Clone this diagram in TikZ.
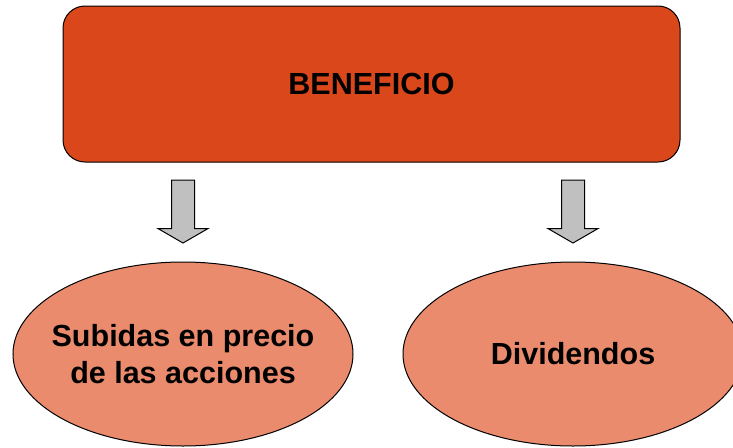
\documentclass[tikz,border=0pt]{standalone}
\usepackage{fontspec}
\setmainfont{Liberation Sans}
\usepackage{xcolor}
\usepackage{tikz}
\usetikzlibrary{
  positioning,
  shapes.geometric,
  shapes.arrows
}

\definecolor{beneficio-fill}{RGB}{217,71,27}
\definecolor{elipse-fill}{RGB}{234,139,110}
\definecolor{flecha-fill}{RGB}{192,192,192}

\begin{document}
\begin{tikzpicture}[
  x=1pt, y=-1pt,
  every node/.style={
    font=\fontsize{30.5}{37}\selectfont\bfseries,
    line width=1pt
  },
  caja/.style={
    rectangle,
    draw,
    fill=beneficio-fill,
    rounded corners=22pt,
    minimum width=617pt,
    minimum height=156pt
  },
  elipse/.style={
    ellipse,
    draw,
    fill=elipse-fill,
    align=center,
    inner xsep=-25pt, inner ysep=0pt,
    minimum width=340pt,
    minimum height=184pt
  },
  flecha/.style={
    single arrow,
    draw,
    fill=flecha-fill,
    rotate=-90,
    anchor=tail,
    inner sep=0pt,
    text height=11pt, text depth=11pt, text width=0pt,
    minimum height=63pt,
    minimum width=49pt,
    single arrow head extend=13.5pt,
    single arrow tip angle=120
  }
]
\useasboundingbox (0,0) rectangle (733,447);

\node[caja] (beneficio) at (371.5,84) {BENEFICIO};

\node[elipse] (subidas) at (183,354) {Subidas en precio\\de las acciones};
\node[elipse] (dividendos) at (573,354) {Dividendos};

\node[flecha] (flecha-subidas) at ([yshift=-17pt]beneficio.south -| subidas.center) {};
\node[flecha] (flecha-dividendos) at ([yshift=-17pt]beneficio.south -| dividendos.center) {};
\end{tikzpicture}
\end{document}
